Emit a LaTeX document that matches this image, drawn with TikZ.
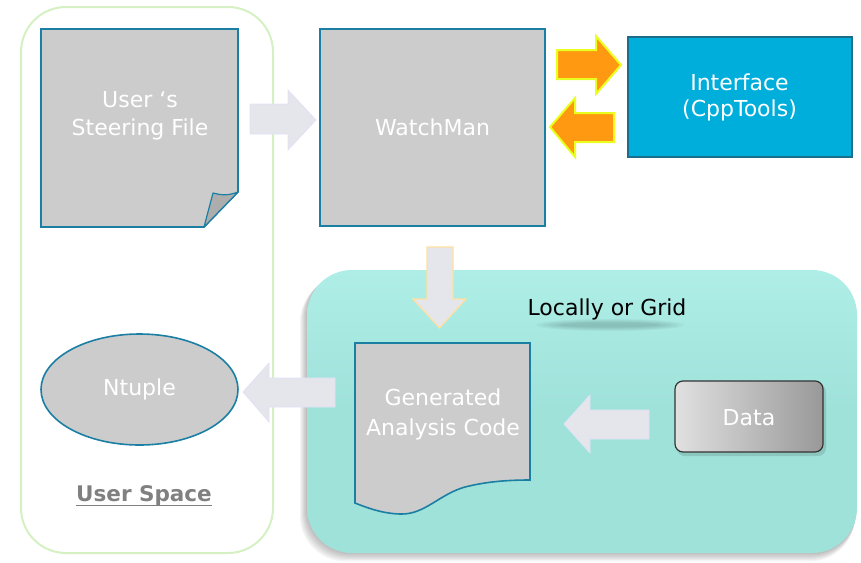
\documentclass[tikz,border=0pt]{standalone}
\usepackage{fontspec}
\setmainfont{DejaVu Sans}
\usetikzlibrary{shapes.geometric}
\definecolor{docgray}{HTML}{CCCCCC}
\definecolor{docline}{HTML}{1B7FA3}
\definecolor{tealfill}{HTML}{9FE2DA}
\definecolor{tealtop}{HTML}{AEEEE7}
\definecolor{ifill}{HTML}{00AEDB}
\definecolor{iline}{HTML}{1A6E8A}
\definecolor{orangef}{HTML}{FF9912}
\definecolor{glow}{HTML}{E8FF20}
\definecolor{lightarr}{HTML}{E5E5EC}
\definecolor{lightarrline}{HTML}{E2E2F8}
\definecolor{downline}{HTML}{FFE0A0}
\definecolor{usline}{HTML}{D5F1C3}
\definecolor{usertext}{HTML}{808080}
\tikzset{
  x=1pt, y=-1pt,
  lbl/.style={text=white, font=\fontsize{22}{26}\selectfont, align=center},
  docshape/.style={fill=docgray, draw=docline, line width=1.6pt},
  orangearr/.style={fill=orangef, draw=glow, line width=2pt, line join=miter},
  lightarrow/.style={fill=lightarr, draw=lightarrline, line width=0.8pt},
  downarrow/.style={fill=lightarr, draw=downline, line width=1.2pt},
}
\begin{document}
\begin{tikzpicture}
\useasboundingbox (0,0) rectangle (861,562);
% user space frame
\draw[usline, line width=2pt, rounded corners=45pt] (21,7) rectangle (273,553);
% locally box shadow
\foreach \i in {1,...,7}{
  \fill[black, opacity=0.04, rounded corners=45pt] (307-\i,270+\i) rectangle (857-0.3*\i,553+1.2*\i);
}
\node[draw=none, inner sep=0, minimum width=550, minimum height=283] (grid) at (582,411.5) {};
\shade[top color=tealtop, bottom color=tealfill, middle color=tealfill, rounded corners=45pt] (307,270) rectangle (857,553);
% text shadow blur
\foreach \i in {1,...,5}{
  \fill[black, opacity=0.035] (610,325) ellipse ({80-6*\i} and {7-0.9*\i});
}
\node[font=\fontsize{22}{26}\selectfont, text=black] (gridlbl) at (607,309) {Locally or Grid};
% steering file
\node[minimum width=197, minimum height=197, inner sep=0] (steer) at (139.5,128) {};
\draw[docshape] (41,29) -- (238,29) -- (238,192) -- (204,227) -- (41,227) -- cycle;
\draw[fill=black!32, draw=docline, line width=1.2pt, line join=round] (238,192) .. controls (228,196) and (220,195) .. (213,193) -- (204,227) -- cycle;
\node[lbl] at (140,100) {User ‘s};
\node[lbl] at (140,129) {Steering File};
% watchman
\node[docshape, minimum width=225, minimum height=197, inner sep=0, lbl] (wm) at (432.5,127.5) {WatchMan};
% interface
\node[fill=ifill, draw=iline, line width=2pt, minimum width=224, minimum height=120, inner sep=0, lbl] (iface) at (739.5,97) {Interface\\(CppTools)};
% ntuple
\node[ellipse, docshape, minimum width=197, minimum height=111, inner sep=0, lbl] (ntuple) at (139.5,389.5) {Ntuple};
\node[font=\bfseries\fontsize{21.5}{25}\selectfont, text=usertext, inner sep=0] (us) at (144,496) {User Space};
\draw[usertext, line width=1.4pt] ([yshift=-4pt]us.base west) -- ([yshift=-4pt]us.base east);
% generated code
\node[minimum width=175, minimum height=140, inner sep=0] (gen) at (442.5,413) {};
\draw[docshape] (355,343) -- (530,343) -- (530,480)
   .. controls (505,480) and (485,482) .. (465,487)
   .. controls (440,494) and (425,514) .. (402,514)
   .. controls (385,514) and (370,509) .. (355,503) -- cycle;
\node[lbl] at (443,397) {Generated};
\node[lbl] at (443,429) {Analysis Code};
% data
\fill[black, opacity=0.12, rounded corners=8pt] (677,384) rectangle (826,456);
\shade[left color=black!12, right color=black!40, draw=black!80, line width=1.2pt, rounded corners=8pt] (675,381) rectangle (823,452);
\node[minimum width=148, minimum height=71, inner sep=0, lbl] (data) at (749,418) {Data};
% arrows
\draw[lightarrow] (250,104) -- (288,104) -- (288,90) -- (316,120) -- (288,150) -- (288,134) -- (250,134) -- cycle;
\draw[orangearr] (557,50) -- (596,50) -- (596,36) -- (621,65) -- (596,94) -- (596,79) -- (557,79) -- cycle;
\draw[orangearr] (614,113) -- (575,113) -- (575,98) -- (550,127) -- (575,157) -- (575,142) -- (614,142) -- cycle;
\draw[downarrow] (427,247) -- (453,247) -- (453,299) -- (466,299) -- (439.5,328) -- (413,299) -- (427,299) -- cycle;
\draw[lightarrow] (649,410) -- (590,410) -- (590,395) -- (564,424) -- (590,453) -- (590,439) -- (649,439) -- cycle;
\draw[lightarrow] (335,378) -- (269,378) -- (269,363) -- (243,392) -- (269,422) -- (269,407) -- (335,407) -- cycle;
\end{tikzpicture}
\end{document}
